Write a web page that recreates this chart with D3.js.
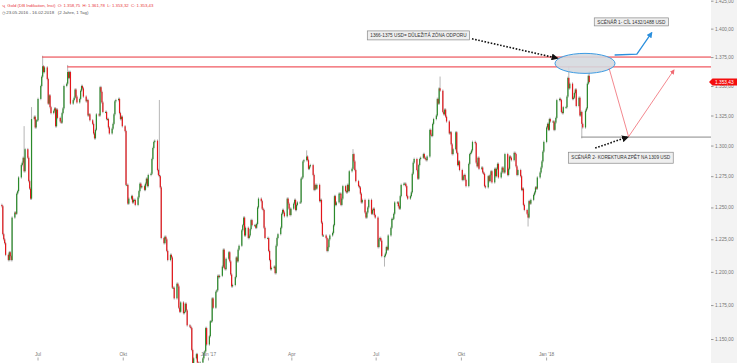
<!DOCTYPE html>
<html>
<head>
<meta charset="utf-8">
<script src="https://cdn.jsdelivr.net/npm/d3@7"></script>
<style>
  html, body { margin: 0; padding: 0; background: #fff; }
  svg { display: block; font-family: "Liberation Sans", Arial, sans-serif; }
</style>
</head>
<body>
<div id="chart"></div>
<script>
// Gold (DB Indikation) – Tageskerzen 23.05.2016 bis 16.02.2018, log. Preisachse
const width = 737;
const height = 363;
const plotRight = 711;

const firstDay = '2016-05-23';
const firstOpen = 1252;

// Schlusskurse je Handelstag (Mo-Fr), eine Zeile = eine Woche
const closes = [
  // 2016
  1251, 1229, 1225, 1222, 1213,
  1209, 1215, 1212, 1209, 1242,
  1246, 1245, 1261, 1263, 1274,
  1284, 1286, 1290, 1279, 1297,
  1290, 1271, 1265, 1257, 1322,
  1324, 1315, 1321, 1321, 1339,
  1350, 1358, 1367, 1362, 1366,
  1356, 1335, 1342, 1332, 1327,
  1329, 1331, 1316, 1330, 1323,
  1320, 1319, 1327, 1331, 1350,
  1352, 1362, 1357, 1362, 1335,
  1338, 1340, 1347, 1341, 1336,
  1339, 1346, 1350, 1348, 1341,
  1337, 1338, 1325, 1326, 1321,
  1318, 1310, 1306, 1313, 1326,
  1325, 1349, 1345, 1336, 1328,
  1328, 1322, 1322, 1315, 1310,
  1314, 1318, 1326, 1337, 1338,
  1339, 1327, 1322, 1324, 1316,
  1312, 1268, 1268, 1253, 1257,
  1259, 1254, 1256, 1256, 1252,
  1258, 1263, 1269, 1266, 1267,
  1264, 1269, 1273, 1267, 1276,
  1277, 1289, 1298, 1303, 1304,
  1280, 1276, 1275, 1266, 1226,
  1222, 1227, 1225, 1216, 1209,
  1213, 1211, 1188, 1188, 1180,
  1191, 1189, 1173, 1170, 1177,
  1169, 1170, 1176, 1171, 1160,
  1159, 1158, 1142, 1130, 1136,
  1139, 1133, 1131, 1130, 1133,
  1136, 1140, 1141, 1158, 1146,
  // 2017
  1152, 1163, 1163, 1180, 1173,
  1185, 1186, 1197, 1196, 1197,
  1204, 1217, 1203, 1202, 1210,
  1215, 1208, 1198, 1189, 1190,
  1196, 1211, 1208, 1217, 1220,
  1232, 1236, 1242, 1228, 1234,
  1226, 1228, 1233, 1240, 1236,
  1236, 1234, 1237, 1250, 1257,
  1255, 1249, 1248, 1234, 1226,
  1226, 1216, 1209, 1202, 1203,
  1204, 1199, 1220, 1226, 1229,
  1234, 1245, 1248, 1246, 1243,
  1257, 1253, 1249, 1244, 1249,
  1253, 1256, 1248, 1252, 1254,
  1254, 1273, 1274, 1287, 1288,
  1291, 1288, 1281, 1283, 1284,
  1276, 1264, 1268, 1265, 1268,
  1255, 1256, 1238, 1228, 1228,
  1226, 1216, 1219, 1225, 1228,
  1230, 1236, 1259, 1252, 1254,
  1261, 1261, 1252, 1257, 1267,
  1263, 1262, 1268, 1263, 1279,
  1281, 1293, 1287, 1280, 1271,
  1267, 1266, 1261, 1254, 1256,
  1246, 1242, 1246, 1250, 1256,
  1245, 1248, 1249, 1244, 1242,
  1219, 1225, 1226, 1224, 1212,
  1212, 1214, 1219, 1217, 1228,
  1234, 1241, 1241, 1245, 1254,
  1254, 1251, 1249, 1259, 1268,
  1269, 1269, 1267, 1259, 1257,
  1259, 1262, 1277, 1286, 1289,
  1280, 1273, 1284, 1289, 1290,
  1293, 1290, 1289, 1288, 1291,
  1313, 1309, 1308, 1318, 1322,
  1325, 1339, 1335, 1348, 1346,
  1328, 1326, 1330, 1324, 1320,
  1310, 1311, 1301, 1293, 1297,
  1311, 1294, 1284, 1287, 1280,
  1272, 1275, 1276, 1272, 1267,
  1285, 1293, 1294, 1296, 1303,
  1302, 1286, 1283, 1290, 1281,
  1282, 1278, 1277, 1267, 1266,
  1275, 1271, 1276, 1279, 1270,
  1281, 1275, 1281, 1285, 1274,
  1278, 1282, 1280, 1278, 1293,
  1276, 1281, 1291, 1290, 1288,
  1294, 1293, 1283, 1276, 1280,
  1275, 1264, 1265, 1252, 1248,
  1245, 1242, 1255, 1253, 1256,
  1260, 1262, 1266, 1265, 1274,
  1278, 1282, 1287, 1295, 1303,
  // 2018
  1315, 1318, 1313, 1322, 1320,
  1320, 1313, 1319, 1323, 1338,
  1339, 1338, 1328, 1327, 1332,
  1332, 1341, 1357, 1348, 1352,
  1339, 1340, 1344, 1347, 1333,
  1340, 1325, 1328, 1318, 1315,
  1329, 1331, 1352, 1358.75, 1353.43
];

// auffällige Dochte
const highSpikes = [
  ['2016-06-16', 1315], ['2016-06-24', 1331], ['2016-07-06', 1375],
  ['2016-08-02', 1367], ['2016-11-09', 1337], ['2017-04-17', 1295],
  ['2017-06-06', 1296], ['2017-09-08', 1357], ['2018-01-25', 1366],
  ['2018-02-16', 1361.78]
];
const lowSpikes = [
  ['2016-12-15', 1122], ['2017-07-10', 1205], ['2017-12-12', 1236],
  ['2018-02-08', 1307]
];

const priceTicks = [1150, 1175, 1200, 1225, 1250, 1275, 1300, 1325, 1350, 1375, 1400, 1425];
const quarterTicks = ['2016-07-01', '2016-10-01', '2017-01-01', '2017-04-01', '2017-07-01', '2017-10-01', '2018-01-01'];
const quarterLabels = ['Jul', 'Okt', "Jan '17", 'Apr', 'Jul', 'Okt', "Jan '18"];
const lastClose = 1353.43;

const resistanceTop = 1375;
const resistanceLow = 1366.5;
const supportLow = 1307;

const parseDate = d3.utcParse('%Y-%m-%d');
const fmt = d3.formatLocale({decimal: ',', thousands: '.', grouping: [3], currency: ['', '']}).format(',.2f');

// Handelstage erzeugen
const days = [];
let cur = parseDate(firstDay);
while (days.length < closes.length) {
  if (cur.getUTCDay() % 6 !== 0) days.push(cur);
  cur = d3.utcDay.offset(cur, 1);
}
const hiMap = new Map(highSpikes.map(d => [+parseDate(d[0]), d[1]]));
const loMap = new Map(lowSpikes.map(d => [+parseDate(d[0]), d[1]]));

const candles = closes.map((c, i) => {
  const o = i ? closes[i - 1] : firstOpen;
  const date = days[i];
  return {
    date, open: o, close: c,
    high: hiMap.get(+date) || Math.max(o, c),
    low: loMap.get(+date) || Math.min(o, c)
  };
});

const x = d3.scaleUtc()
  .domain([Date.UTC(2016, 4, 21, 12), Date.UTC(2018, 5, 28)])
  .range([0, plotRight]);

const y = d3.scaleLog()
  .domain([1150, 1425])
  .range([339, 0.7]);

const at = (d, p) => [x(parseDate(d)), y(p)];

const svg = d3.select('#chart').append('svg')
  .attr('width', width).attr('height', height);

const defs = svg.append('defs');
defs.append('clipPath').attr('id', 'plot')
  .append('rect').attr('x', 0).attr('y', 0).attr('width', plotRight).attr('height', height);

function marker(id, color, size) {
  defs.append('marker').attr('id', id)
    .attr('viewBox', '0 0 10 10').attr('refX', 8).attr('refY', 5)
    .attr('markerUnits', 'userSpaceOnUse')
    .attr('markerWidth', size).attr('markerHeight', size)
    .attr('orient', 'auto')
    .append('path').attr('d', 'M0,0L10,5L0,10z').attr('fill', color);
}
marker('arrBlack', '#111', 7);
marker('arrBlue', '#2b8fdd', 6);
marker('arrRed', '#f06a72', 5);

// rechte Achsenfläche
svg.append('rect')
  .attr('x', plotRight).attr('y', 0)
  .attr('width', width - plotRight).attr('height', height)
  .attr('fill', '#f3f3f3');

const plot = svg.append('g').attr('clip-path', 'url(#plot)');

// Kerzen
const cg = plot.append('g');
cg.selectAll('line').data(candles).join('line')
  .attr('x1', d => x(d.date) + 0.5)
  .attr('x2', d => x(d.date) + 0.5)
  .attr('y1', d => y(d.high) - 1.3)
  .attr('y2', d => y(d.low) + 1.3)
  .attr('stroke', '#a3a3a3')
  .attr('stroke-width', 0.8);

cg.selectAll('rect').data(candles).join('rect')
  .attr('x', d => x(d.date) - 0.1)
  .attr('width', 1.2)
  .attr('y', d => y(Math.max(d.open, d.close)))
  .attr('height', d => Math.max(1, Math.abs(y(d.open) - y(d.close))))
  .attr('fill', d => d.close >= d.open ? '#2a8a2a' : '#e3161b');

// Widerstandslinien und Unterstützung
plot.append('line')
  .attr('x1', x(parseDate('2016-07-06'))).attr('x2', plotRight)
  .attr('y1', y(resistanceTop)).attr('y2', y(resistanceTop))
  .attr('stroke', '#e8323a').attr('stroke-width', 1);
plot.append('line')
  .attr('x1', x(parseDate('2016-08-02'))).attr('x2', plotRight)
  .attr('y1', y(resistanceLow)).attr('y2', y(resistanceLow))
  .attr('stroke', '#f05a62').attr('stroke-width', 1.2);
plot.append('line')
  .attr('x1', x(parseDate('2018-02-08'))).attr('x2', plotRight)
  .attr('y1', y(supportLow)).attr('y2', y(supportLow))
  .attr('stroke', '#888').attr('stroke-width', 1);

// Zone
const [ex, ey] = at('2018-02-12', 1369.5);
plot.append('ellipse')
  .attr('cx', ex).attr('cy', ey).attr('rx', 30).attr('ry', 10)
  .attr('fill', 'rgba(212,216,222,0.88)')
  .attr('stroke', '#3d9be2').attr('stroke-width', 1);

// Szenario-Linien
const line = d3.line();
plot.append('path')
  .attr('d', line([at('2018-03-10', 1365.2), at('2018-03-31', 1307.3), at('2018-05-19', 1363.8)]))
  .attr('fill', 'none').attr('stroke', '#f06a72').attr('stroke-width', 0.8)
  .attr('marker-end', 'url(#arrRed)');
plot.append('path')
  .attr('d', line([at('2018-03-16', 1376.8), at('2018-04-09', 1377.5), at('2018-04-25', 1396.4)]))
  .attr('fill', 'none').attr('stroke', '#2b8fdd').attr('stroke-width', 1.3)
  .attr('marker-end', 'url(#arrBlue)');
plot.append('path')
  .attr('d', line([at('2017-10-13', 1391), at('2018-01-13', 1374)]))
  .attr('fill', 'none').attr('stroke', '#111').attr('stroke-width', 1.6)
  .attr('stroke-dasharray', '1.6,1.6')
  .attr('marker-end', 'url(#arrBlack)');
plot.append('path')
  .attr('d', line([at('2018-02-23', 1298), at('2018-03-30', 1307)]))
  .attr('fill', 'none').attr('stroke', '#111').attr('stroke-width', 1.6)
  .attr('stroke-dasharray', '1.6,1.6')
  .attr('marker-end', 'url(#arrBlack)');

// Textboxen
function noteBox(d, p, h, label) {
  const [bx, by] = at(d, p);
  const g = svg.append('g');
  const t = g.append('text')
    .attr('x', bx + 3).attr('y', by).attr('dy', '0.35em')
    .attr('font-size', 4.7).attr('fill', '#333')
    .text(label);
  const w = t.node().getComputedTextLength();
  g.insert('rect', 'text')
    .attr('x', bx).attr('y', by - h / 2)
    .attr('width', w + 6).attr('height', h)
    .attr('fill', '#efefef').attr('stroke', '#8a8a8a').attr('stroke-width', 0.7);
}
noteBox('2017-06-22', 1394, 9, '1366-1375 USD= DŮLEŽITÁ ZÓNA ODPORU');
noteBox('2018-02-22', 1406, 8, 'SCÉNÁŘ 1- CÍL 1432/1488 USD');
noteBox('2018-01-25', 1290, 11, 'SCÉNÁŘ 2- KOREKTURA ZPĚT NA 1309 USD');

// Preisachse rechts
const yAxis = g => g
  .attr('transform', `translate(${plotRight},0)`)
  .call(d3.axisRight(y).tickValues(priceTicks).tickSize(2.5).tickPadding(1.5).tickFormat(fmt))
  .call(g => g.select('.domain').remove())
  .call(g => g.selectAll('line').attr('stroke', '#999'))
  .call(g => g.selectAll('text').attr('fill', '#777').attr('font-size', 4.8).attr('font-family', null));
svg.append('g').call(yAxis);

// Zeitachse
const xAxis = g => g
  .attr('transform', 'translate(0,354)')
  .call(d3.axisBottom(x).tickValues(quarterTicks.map(parseDate)).tickSize(0).tickFormat((d, i) => quarterLabels[i]))
  .call(g => g.select('.domain').remove())
  .call(g => g.selectAll('line').attr('y1', 3.5).attr('y2', 6.5).attr('stroke', '#aaa'))
  .call(g => g.selectAll('text').attr('y', 0).attr('dy', '0.35em').attr('fill', '#777').attr('font-size', 4.8).attr('font-family', null));
svg.append('g').call(xAxis);

// letzter Kurs
const ly = y(lastClose);
const lg = svg.append('g');
lg.append('path')
  .attr('d', `M${plotRight - 2},${ly}L${plotRight + 1.5},${ly - 3.6}H${width}V${ly + 3.6}H${plotRight + 1.5}Z`)
  .attr('fill', '#f40d0d');
lg.append('text')
  .attr('x', plotRight + 4).attr('y', ly).attr('dy', '0.35em')
  .attr('font-size', 4.8).attr('fill', '#fff')
  .text(fmt(lastClose));

// Kopfzeile
svg.append('text')
  .attr('x', 2).attr('y', 5).attr('dy', '0.35em')
  .attr('font-size', 4.3).attr('fill', '#e8353b')
  .attr('xml:space', 'preserve')
  .text('ʯ  Gold (DB Indikation, Inst)  O: 1.358,75  H: 1.361,78  L: 1.353,32  C: 1.353,43');
svg.append('text')
  .attr('x', 2).attr('y', 12.7).attr('dy', '0.35em')
  .attr('font-size', 4.4).attr('fill', '#555')
  .attr('xml:space', 'preserve')
  .text('◷ 23.05.2016 - 16.02.2018   (2 Jahre, 1 Tag)');
</script>
</body>
</html>
